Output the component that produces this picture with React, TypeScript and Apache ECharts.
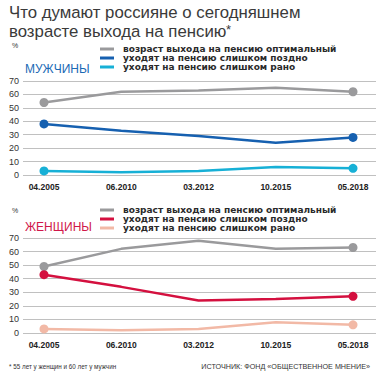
import React, { useEffect, useRef } from "react";
import * as echarts from "echarts";

const categories = ["04.2005", "06.2010", "03.2012", "10.2015", "05.2018"];
const yTicks = [0, 10, 20, 30, 40, 50, 60, 70];

const menOptimal = [54, 62, 63, 65, 62];
const menLate = [38, 33, 29, 24, 28];
const menEarly = [3, 2, 3, 6, 5];

const womenOptimal = [49, 62, 68, 62, 63];
const womenLate = [43, 34, 24, 25, 27];
const womenEarly = [3, 2, 3, 8, 6];

const legendLabels: Record<string, string> = {
  mOpt: "возраст выхода на пенсию оптимальный",
  mLate: "уходят на пенсию слишком поздно",
  mEarly: "уходят на пенсию слишком рано",
  wOpt: "возраст выхода на пенсию оптимальный",
  wLate: "уходят на пенсию слишком поздно",
  wEarly: "уходят на пенсию слишком рано",
};

const FONT = "Liberation Sans";

export default function App() {
  const ref = useRef<HTMLDivElement>(null);
  useEffect(() => {
    if (!ref.current) return;
    const chart = echarts.init(ref.current, undefined, { renderer: "svg" });
    const endSym = (_v: any, p: any) =>
      p.dataIndex === 0 || p.dataIndex === categories.length - 1 ? 9 : 0;

    const wideGrid = (top: number, height: number) => ({ left: 23, right: 12, top, height });
    const narrowGrid = (top: number, height: number) => ({ left: 44, right: 35, top, height });

    const yMain = (gridIndex: number) => ({
      gridIndex,
      type: "value",
      min: yTicks[0],
      max: yTicks[yTicks.length - 1],
      interval: 10,
      axisLine: { show: false },
      axisTick: { show: false },
      axisLabel: { color: "#333", fontSize: 9, fontFamily: FONT, margin: 4 },
      splitLine: { lineStyle: { color: "#c0c0c0", width: 1 } },
    });
    const yHidden = (gridIndex: number) => ({
      gridIndex,
      type: "value",
      min: yTicks[0],
      max: yTicks[yTicks.length - 1],
      show: false,
      splitLine: { show: false },
    });
    const xHidden = (gridIndex: number) => ({
      gridIndex,
      type: "category",
      data: categories,
      show: false,
    });
    const xMain = (gridIndex: number) => ({
      gridIndex,
      type: "category",
      data: categories,
      boundaryGap: false,
      axisLine: { show: false },
      axisTick: { show: false },
      axisLabel: { color: "#222", fontSize: 8.5, fontFamily: FONT, fontWeight: "bold", margin: 7 },
      splitLine: { show: false },
    });

    const line = (name: string, data: number[], color: string, axis: number) => ({
      name,
      type: "line",
      xAxisIndex: axis,
      yAxisIndex: axis,
      data,
      color,
      lineStyle: { color, width: 2.5 },
      itemStyle: { color },
      symbol: "circle",
      symbolSize: endSym,
      showAllSymbol: true,
      z: 3,
    });

    const legend = (top: number, names: string[]) => ({
      orient: "vertical",
      left: 100,
      top,
      padding: 0,
      itemWidth: 14,
      itemHeight: 3,
      itemGap: 0,
      icon: "rect",
      data: names,
      formatter: (n: string) => legendLabels[n],
      textStyle: {
        fontSize: 9,
        lineHeight: 9,
        color: "#2a2a2a",
        fontFamily: "DejaVu Sans",
        fontWeight: "bold",
        padding: [0, 0, 0, 4],
      },
      selectedMode: false,
    });

    chart.setOption({
      animation: false,
      backgroundColor: "#fff",
      grid: [wideGrid(81, 94), narrowGrid(81, 94), wideGrid(238, 95), narrowGrid(238, 95)],
      xAxis: [xHidden(0), xMain(1), xHidden(2), xMain(3)],
      yAxis: [yMain(0), yHidden(1), yMain(2), yHidden(3)],
      legend: [legend(44.5, ["mOpt", "mLate", "mEarly"]), legend(205.5, ["wOpt", "wLate", "wEarly"])],
      series: [
        line("mOpt", menOptimal, "#9a9a9c", 1),
        line("mLate", menLate, "#1660b0", 1),
        line("mEarly", menEarly, "#17b0d6", 1),
        line("wOpt", womenOptimal, "#9a9a9c", 3),
        line("wLate", womenLate, "#d4103f", 3),
        line("wEarly", womenEarly, "#f2b9a6", 3),
      ],
      graphic: [
        {
          type: "text",
          left: 9,
          top: 3,
          style: { text: "Что думают россияне о сегодняшнем", fontSize: 16.8, lineHeight: 18.8, fontFamily: FONT, fill: "#3a3a3a" },
        },
        {
          type: "text",
          left: 9,
          top: 21.8,
          style: { text: "возрасте выхода на пенсию", fontSize: 16.8, lineHeight: 18.8, fontFamily: FONT, fill: "#3a3a3a" },
        },
        {
          type: "text",
          left: 226,
          top: 22,
          style: { text: "*", fontSize: 13, lineHeight: 14, fontFamily: FONT, fill: "#3a3a3a" },
        },
        { type: "text", left: 12, top: 42, style: { text: "%", fontSize: 7, fontFamily: FONT, fill: "#333" } },
        { type: "text", left: 12, top: 207, style: { text: "%", fontSize: 7, fontFamily: FONT, fill: "#333" } },
        {
          type: "text",
          left: 25,
          top: 63,
          style: { text: "МУЖЧИНЫ", fontSize: 12, fontFamily: FONT, fill: "#1a6ab5" },
        },
        {
          type: "text",
          left: 25,
          top: 221,
          style: { text: "ЖЕНЩИНЫ", fontSize: 12, fontFamily: FONT, fill: "#d0174a" },
        },
        {
          type: "text",
          left: 9,
          top: 363,
          style: { text: "* 55 лет у женщин и 60 лет у мужчин", fontSize: 6.3, fontFamily: FONT, fill: "#333" },
        },
        {
          type: "text",
          right: 18,
          top: 363,
          style: { text: "ИСТОЧНИК: ФОНД «ОБЩЕСТВЕННОЕ МНЕНИЕ»", fontSize: 7.2, fontFamily: FONT, fill: "#333" },
        },
      ],
    });
    return () => chart.dispose();
  }, []);
  return <div ref={ref} style={{ width: 388, height: 380, position: "absolute", left: 0, top: 0 }} />;
}
